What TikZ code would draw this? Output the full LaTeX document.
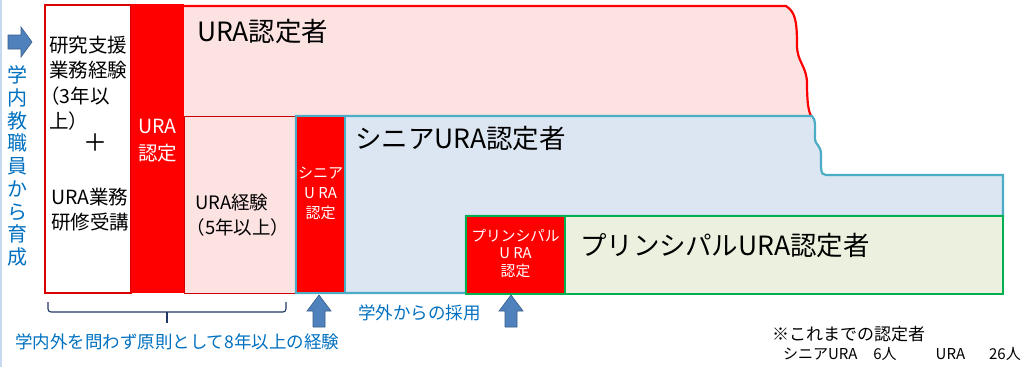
\documentclass[tikz,border=0pt]{standalone}
\usepackage{fontspec}
\setmainfont{Noto Sans CJK JP}
\definecolor{urared}{RGB}{255,0,0}
\definecolor{pinkfill}{RGB}{253,226,226}
\definecolor{bluefill}{RGB}{220,230,242}
\definecolor{tealline}{RGB}{75,172,198}
\definecolor{greenline}{RGB}{0,176,80}
\definecolor{greenfill}{RGB}{235,241,222}
\definecolor{arrowfill}{RGB}{79,129,189}
\definecolor{arrowline}{RGB}{56,93,138}
\definecolor{bluetext}{RGB}{0,112,192}
\definecolor{bracecol}{RGB}{31,56,100}
\definecolor{edgeblue}{RGB}{197,217,241}
\begin{document}
\begin{tikzpicture}[x=1pt,y=-1pt,
  txt/.style={inner sep=0pt,outer sep=0pt},
  fs/.style={font=\fontsize{#1}{#1}\selectfont},
  blockarrow/.style={fill=arrowfill,draw=arrowline,line width=0.6pt},
]
\useasboundingbox (0,0) rectangle (1024,367);
% left page edge
\draw[edgeblue,line width=2.5pt] (1.2,0) -- (1.2,367);

% URA region (pink)
\fill[pinkfill] (184,6) -- (786,6)
  .. controls (795,12) and (797,20) .. (797,45)
  .. controls (797,62) and (806,65) .. (807,82)
  .. controls (807,100) and (808,110) .. (811,116)
  -- (184,116) -- cycle;
\draw[urared,line width=2.2pt] (184,6) -- (786,6)
  .. controls (795,12) and (797,20) .. (797,45)
  .. controls (797,62) and (806,65) .. (807,82)
  .. controls (807,100) and (808,110) .. (811,116);
% lower pink box
\draw[urared!80!black,fill=pinkfill,line width=1pt] (184,116) rectangle (295,293);
% white box
\draw[urared!85!black,fill=white,line width=1.2pt] (45,5) rectangle (131,293);
% URA red column
\fill[urared] (131,4) rectangle (184,293);

% Senior region (blue)
\draw[tealline,fill=bluefill,line width=2.2pt] (296,116) -- (812,116)
  .. controls (816,120) and (815,125) .. (815,138)
  .. controls (815,146) and (821,144) .. (821,155)
  .. controls (821,168) and (820,175) .. (826,175)
  -- (1003,175) -- (1003,216) -- (466,216) -- (466,293) -- (296,293) -- cycle;
\draw[tealline,fill=urared,line width=2pt] (296,116) rectangle (345,293);

% Principal region (green)
\draw[greenline,fill=greenfill,line width=2.6pt] (565,216) rectangle (1003,294);
\draw[greenline,fill=urared,line width=2pt] (466,216) rectangle (565,294);

% titles
\node[txt,fs=26.5,anchor=west] (ura) at (197,31) {URA認定者};
\node[txt,fs=26.5,anchor=west] (senior) at (355,138) {シニアURA認定者};
\node[txt,fs=26.5,anchor=west] (principal) at (580,245) {プリンシパルURA認定者};

% left box texts
\node[txt,anchor=west,align=left,font=\fontsize{19.5}{25.5}\selectfont] (req1) at (49,83) {研究支援\\業務経験\\\kern-0.45em（3年以\\上）};
\node[txt,fs=24] (plus) at (95,143) {＋};
\node[txt,anchor=west,align=left,font=\fontsize{19.5}{25}\selectfont] (req2) at (51,210) {URA業務\\研修受講};

% red labels
\node[txt,align=center,text=white,font=\fontsize{19.5}{27}\selectfont] (uranin) at (157.5,141) {URA\\認定};
\node[txt,anchor=west,align=left,font=\fontsize{18.5}{25}\selectfont] (exp) at (195,215) {URA経験\\\kern-0.45em（5年以上）};
\node[txt,align=center,text=white,font=\fontsize{15}{20}\selectfont] (seniornin) at (320.5,193) {シニア\\U RA\\認定};
\node[txt,align=center,text=white,font=\fontsize{14.8}{17.5}\selectfont] (princnin) at (515.5,253) {プリンシパル\\U RA\\認定};

% left vertical label and arrow
\draw[blockarrow] (8,35) -- (21,35) -- (21,27) -- (32,42) -- (21,57) -- (21,49) -- (8,49) -- cycle;
\node[txt,align=center,text=bluetext,font=\fontsize{20}{22.75}\selectfont] (ikusei) at (17,166) {学\\内\\教\\職\\員\\か\\ら\\育\\成};

% brace
\draw[bracecol,line width=1.1pt,rounded corners=3pt] (48,302) -- (48,312) -- (286,312) -- (286,302);
\draw[bracecol,line width=1.1pt] (167,312) -- (167,323);
\node[txt,anchor=west,text=bluetext,fs=17.5] (gensoku) at (15,342) {学内外を問わず原則として8年以上の経験};

% up arrows
\draw[blockarrow] (319,295) -- (331,311) -- (325,311) -- (325,327) -- (313,327) -- (313,311) -- (307,311) -- cycle;
\draw[blockarrow] (511,295) -- (523,311) -- (517,311) -- (517,327) -- (505,327) -- (505,311) -- (499,311) -- cycle;
\node[txt,anchor=west,text=bluetext,fs=17.5] (gakugai) at (358,313) {学外からの採用};

% note
\node[txt,anchor=west,fs=17] (note1) at (772,334) {※これまでの認定者};
\node[txt,anchor=west,fs=15] (note2) at (783,354) {シニアURA\hspace{16pt}6人\hspace{39pt}URA\hspace{24pt}26人};
\end{tikzpicture}
\end{document}
